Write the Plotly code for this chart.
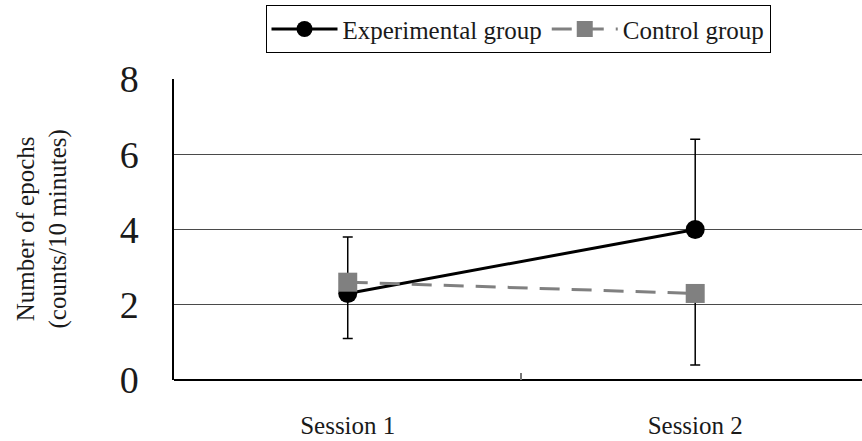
import plotly.graph_objects as go

# Session labels and group means
sessions = ["Session 1", "Session 2"]
session_pos = [0, 1]
experimental = [2.3, 4.0]
experimental_err_up = [1.5, 2.4]
control = [2.6, 2.3]
control_err_down = [1.5, 1.9]
y_ticks = [0, 2, 4, 6, 8]

FONT = "Liberation Serif, Times New Roman, serif"
TEXT = "#1a1a1a"

fig = go.Figure()

fig.add_trace(go.Scatter(
    x=session_pos, y=experimental, name="Experimental group",
    mode="lines+markers",
    line=dict(color="black", width=3),
    marker=dict(symbol="circle", size=19, color="black"),
    error_y=dict(type="data", symmetric=False, array=experimental_err_up,
                 arrayminus=[0, 0], color="black", thickness=1.5, width=5),
))

fig.add_trace(go.Scatter(
    x=session_pos, y=control, name="Control group",
    mode="lines+markers",
    line=dict(color="#808080", width=3, dash="20px,12px"),
    marker=dict(symbol="square", size=19, color="#808080"),
    error_y=dict(type="data", symmetric=False, array=[0, 0],
                 arrayminus=control_err_down, color="black", thickness=1.5, width=5),
))

fig.update_layout(
    width=862, height=441,
    margin=dict(l=174, r=0, t=79, b=61),
    paper_bgcolor="white", plot_bgcolor="white",
    font=dict(family=FONT, color=TEXT),
    showlegend=True,
    legend=dict(
        orientation="h", x=0.5, xanchor="center", y=1.245, yanchor="top",
        bordercolor="black", borderwidth=1, bgcolor="white",
        font=dict(size=25, family=FONT, color=TEXT),
        itemwidth=66, tracegroupgap=0,
    ),
    xaxis=dict(
        range=[-0.5, 1.48], tickmode="array", tickvals=session_pos, ticktext=sessions,
        showgrid=False, zeroline=False, showline=False, ticks="",
        tickfont=dict(size=25, family=FONT, color=TEXT),
        ticklabelstandoff=28,
        minor=dict(tickmode="array", tickvals=[0.5], ticks="inside", ticklen=7,
                   tickcolor="#777777", tickwidth=1.5, showgrid=False),
    ),
    yaxis=dict(
        range=[0, 8], tickmode="array", tickvals=y_ticks,
        showgrid=True, gridcolor="#4a4a4a", gridwidth=1,
        zeroline=True, zerolinecolor="black", zerolinewidth=2,
        showline=True, linecolor="black", linewidth=1.5,
        ticks="", tickfont=dict(size=38, family=FONT, color=TEXT),
        ticklabelstandoff=26,
    ),
    annotations=[dict(
        text="Number of epochs<br>(counts/10 minutes)",
        xref="paper", yref="paper", x=(42 - 174) / 688, y=0.5,
        xanchor="center", yanchor="middle", textangle=-90, showarrow=False,
        font=dict(size=25, family=FONT, color=TEXT),
    )],
)

fig.write_html("out.html")
